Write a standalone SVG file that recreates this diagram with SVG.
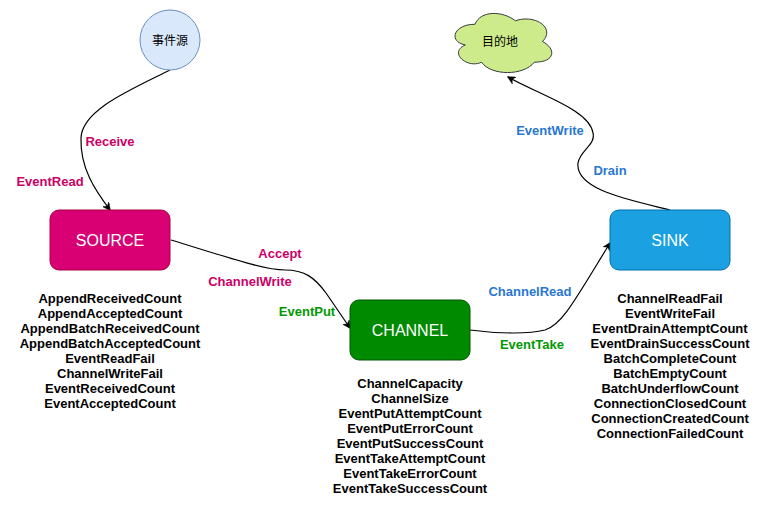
<svg xmlns="http://www.w3.org/2000/svg" width="766" height="506" viewBox="0 0 766 506">
<defs>
<marker id="arr" viewBox="0 0 10 10" refX="9" refY="5" markerWidth="8" markerHeight="8" markerUnits="userSpaceOnUse" orient="auto">
<path d="M0,0 L10,5 L0,10 L3,5 Z" fill="#000" stroke="#000" stroke-width="0.5"/>
</marker>
<style>
.edge{fill:none;stroke:#000;stroke-width:1.2;marker-end:url(#arr)}
.lbl{font-family:"Liberation Sans",Arial,sans-serif;font-weight:bold;font-size:13px;text-anchor:middle}
.pink{fill:#cc0066}
.blue{fill:#2a77d2}
.green{fill:#009900}
.node{font-family:"Liberation Sans",Arial,sans-serif;font-size:16px;fill:#fff;text-anchor:middle}
.cjk{font-family:"Liberation Sans","Noto Sans CJK SC",sans-serif;font-size:12px;fill:#000;text-anchor:middle}
.list{font-family:"Liberation Sans",Arial,sans-serif;font-weight:bold;font-size:13px;fill:#000;text-anchor:middle}
</style>
</defs>
<rect width="766" height="506" fill="#fff"/>
<g id="connectors">
<path class="edge" d="M170,70 C130,90 82,110 81,138 C80,168 95,190 110,210"/>
<path class="edge" d="M171,240 C230,258 265,270 285,270 C305,270 315,278 326,293 C335,306 343,318 350,328"/>
<path class="edge" d="M470,330 C500,334 530,334 545,330 C562,325 575,300 610,243"/>
<path class="edge" d="M670,210 C630,200 575,190 578,163 C580,150 596,145 593,133 C590,110 540,95 508,77"/>
</g>
<g id="edge-labels">
<text class="lbl pink" x="110" y="146">Receive</text>
<text class="lbl pink" x="50" y="186">EventRead</text>
<text class="lbl pink" x="280" y="258">Accept</text>
<text class="lbl pink" x="250" y="286">ChannelWrite</text>
<text class="lbl green" x="307" y="316">EventPut</text>
<text class="lbl blue" x="530" y="296">ChannelRead</text>
<text class="lbl green" x="532" y="349">EventTake</text>
<text class="lbl blue" x="550" y="135">EventWrite</text>
<text class="lbl blue" x="610" y="175">Drain</text>
</g>
<g id="event-source">
<circle cx="170" cy="40" r="30" fill="#dae8fc" stroke="#6c8ebf" stroke-width="1"/>
<text class="cjk" x="170" y="45">事件源</text>
</g>
<g id="destination">
<path d="M475,24.25 C453.4,24.25 448,41.5 465.28,44.95 C448,52.54 467.44,69.1 481.48,62.2 C491.2,76 523.6,76 534.4,62.2 C556,62.2 556,48.4 542.5,41.5 C556,27.7 534.4,13.9 515.5,20.8 C502,10.45 480.4,10.45 475,24.25 Z" fill="#cdeb8b" stroke="#36393d" stroke-width="1"/>
<text class="cjk" x="500" y="46">目的地</text>
</g>
<g id="source">
<rect x="50" y="210" width="120" height="60" rx="9" fill="#d80073" stroke="#a50040"/>
<text class="node" x="110" y="246">SOURCE</text>
<text class="list" x="110" y="303">AppendReceivedCount</text>
<text class="list" x="110" y="318">AppendAcceptedCount</text>
<text class="list" x="110" y="333">AppendBatchReceivedCount</text>
<text class="list" x="110" y="348">AppendBatchAcceptedCount</text>
<text class="list" x="110" y="363">EventReadFail</text>
<text class="list" x="110" y="378">ChannelWriteFail</text>
<text class="list" x="110" y="393">EventReceivedCount</text>
<text class="list" x="110" y="408">EventAcceptedCount</text>
</g>
<g id="channel">
<rect x="350" y="300" width="120" height="60" rx="9" fill="#008a00" stroke="#005700"/>
<text class="node" x="410" y="336">CHANNEL</text>
<text class="list" x="410" y="388">ChannelCapacity</text>
<text class="list" x="410" y="403">ChannelSize</text>
<text class="list" x="410" y="418">EventPutAttemptCount</text>
<text class="list" x="410" y="433">EventPutErrorCount</text>
<text class="list" x="410" y="448">EventPutSuccessCount</text>
<text class="list" x="410" y="463">EventTakeAttemptCount</text>
<text class="list" x="410" y="478">EventTakeErrorCount</text>
<text class="list" x="410" y="493">EventTakeSuccessCount</text>
</g>
<g id="sink">
<rect x="610" y="210" width="120" height="60" rx="9" fill="#1ba1e2" stroke="#006eaf"/>
<text class="node" x="670" y="246">SINK</text>
<text class="list" x="670" y="303">ChannelReadFail</text>
<text class="list" x="670" y="318">EventWriteFail</text>
<text class="list" x="670" y="333">EventDrainAttemptCount</text>
<text class="list" x="670" y="348">EventDrainSuccessCount</text>
<text class="list" x="670" y="363">BatchCompleteCount</text>
<text class="list" x="670" y="378">BatchEmptyCount</text>
<text class="list" x="670" y="393">BatchUnderflowCount</text>
<text class="list" x="670" y="408">ConnectionClosedCount</text>
<text class="list" x="670" y="423">ConnectionCreatedCount</text>
<text class="list" x="670" y="438">ConnectionFailedCount</text>
</g>
</svg>
